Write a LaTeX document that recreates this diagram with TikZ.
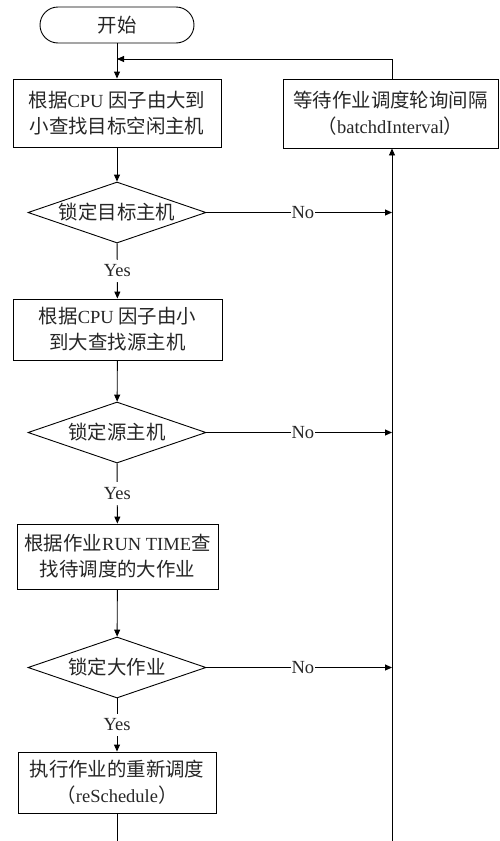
\documentclass[tikz,border=0pt]{standalone}
\usepackage{fontspec}
\setmainfont{Liberation Serif}
\newfontfamily\cjk[Scale=1.05]{Noto Sans CJK SC}
\usetikzlibrary{arrows.meta,shapes.geometric}
\newcommand{\C}[1]{{\cjk #1}}
\begin{document}
\begin{tikzpicture}[x=1pt,y=-1pt,
  line width=0.9pt,
  font=\fontsize{18.5}{26}\selectfont,
  arr/.style={-{Triangle[length=7pt,width=6pt]}},
  procbox/.style={draw, rectangle, align=center, inner sep=2pt, text=black!85},
  decbox/.style={draw, diamond, inner sep=0pt, minimum width=178pt, minimum height=61pt, text=black!85},
  termbox/.style={draw, rectangle, rounded corners=18pt, minimum width=154pt, minimum height=36pt, inner sep=0pt, text=black!85},
  lbl/.style={fill=white, inner xsep=1pt, inner ysep=5pt, text=black!85}]
\useasboundingbox (0,0) rectangle (499,841);
\begin{scope}
\clip (0,0) rectangle (499,841);
% nodes
\node[termbox] (start) at (117,25) {\C{开始}};
\node[procbox, minimum width=208pt, minimum height=68pt] (b1) at (117,113)
  {\C{根据}CPU \C{因子由大到}\\ \C{小查找目标空闲主机}};
\node[procbox, minimum width=215pt, minimum height=69pt] (wait) at (390.5,113.5)
  {\C{等待作业调度轮询间隔}\\ \C{（}batchdInterval\C{）}};
\node[decbox] (d1) at (117,212.5) {\makebox[0pt]{\C{锁定目标主机}}};
\node[procbox, minimum width=209pt, minimum height=61pt] (b2) at (117.5,329.5)
  {\C{根据}CPU \C{因子由小}\\ \C{到大查找源主机}};
\node[decbox] (d2) at (117,432.5) {\makebox[0pt]{\C{锁定源主机}}};
\node[procbox, minimum width=201pt, minimum height=65pt] (b3) at (117.5,556.5)
  {\C{根据作业}RUN TIME\C{查}\\ \C{找待调度的大作业}};
\node[decbox] (d3) at (117,667.5) {\makebox[0pt]{\C{锁定大作业}}};
\node[procbox, minimum width=198pt, minimum height=61pt] (b4) at (117,782.5)
  {\C{执行作业的重新调度}\\ \C{（}reSchedule\C{）}};
% coordinates
\coordinate (merge) at (117,59);
\coordinate (rtop) at (392,59);
\coordinate (rbot) at (392,841);
\coordinate (bot) at (117,841);
\coordinate (n1) at (392,212.5);
\coordinate (n2) at (392,432.5);
\coordinate (n3) at (392,667.5);
% connectors
\draw[arr] (start) -- (b1);
\draw[arr] (b1) -- (d1);
\draw[arr] (d1) -- node[lbl] {Yes} (b2);
\draw[arr] (b2) -- (d2);
\draw[arr] (d2) -- node[lbl] {Yes} (b3);
\draw[arr] (b3) -- (d3);
\draw[arr] (d3) -- node[lbl] {Yes} (b4);
\draw (b4) -- (bot);
\draw[arr] (d1.east) -- node[lbl,pos=0.52] {No} (n1);
\draw[arr] (d2.east) -- node[lbl,pos=0.52] {No} (n2);
\draw[arr] (d3.east) -- node[lbl,pos=0.52] {No} (n3);
\draw[arr] (rbot) -- (rbot |- wait.south);
\draw[arr] (rtop |- wait.north) -- (rtop) -- (merge);
\end{scope}
\end{tikzpicture}
\end{document}
